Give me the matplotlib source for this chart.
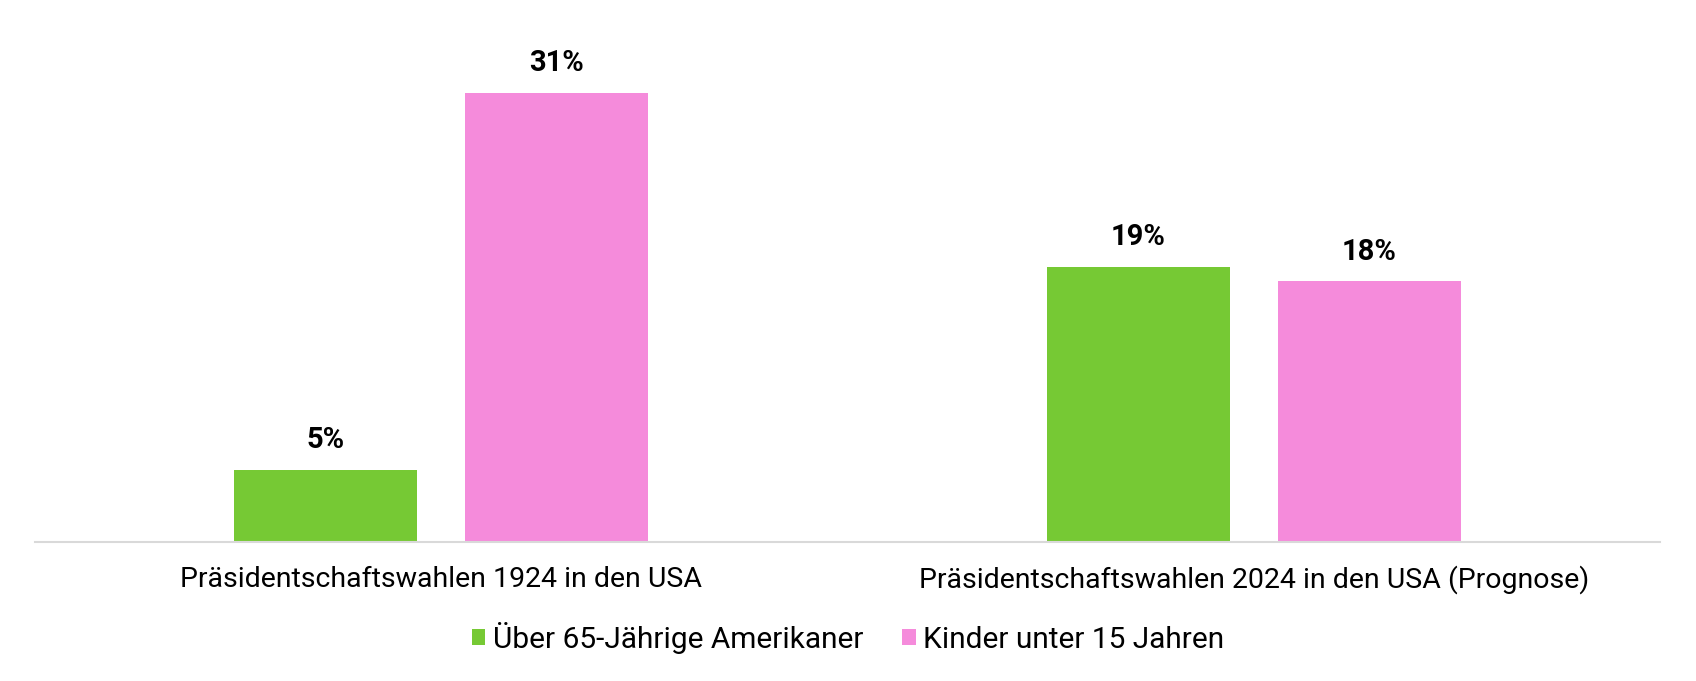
import matplotlib.pyplot as plt
import numpy as np

# Anteil an der US-Bevölkerung
categories = ['Präsidentschaftswahlen 1924 in den USA',
              'Präsidentschaftswahlen 2024 in den USA (Prognose)']
series_names = ['Über 65-Jährige Amerikaner', 'Kinder unter 15 Jahren']
over_65 = [5, 19]
under_15 = [31, 18]

colors = ['#76C934', '#F58BDB']

plt.rcParams['font.family'] = ['Roboto', 'DejaVu Sans']

fig = plt.figure(figsize=(16.96, 6.81), dpi=100)
ax = fig.add_axes([35 / 1696, 1 - 542 / 681, 1625 / 1696, 470 / 681])

x = np.arange(len(categories))
width = 0.225
offset = 0.142

bars1 = ax.bar(x - offset, over_65, width, color=colors[0], label=series_names[0])
bars2 = ax.bar(x + offset, under_15, width, color=colors[1], label=series_names[1])

for bars in (bars1, bars2):
    for b in bars:
        ax.annotate(f'{b.get_height():.0f}%', (b.get_x() + b.get_width() / 2, b.get_height()),
                    xytext=(0, 21), textcoords='offset points', ha='center', va='center',
                    fontsize=21, fontweight='bold')

ax.set_xlim(-0.5, 1.5)
ax.set_ylim(0, 470 / 14.5)
ax.set_xticks(x)
ax.set_xticklabels(categories, fontsize=20.5)
ax.tick_params(axis='x', length=0, pad=17)
ax.set_yticks([])
for s in ['top', 'right', 'left']:
    ax.spines[s].set_visible(False)
ax.spines['bottom'].set_color('#D9D9D9')
ax.spines['bottom'].set_linewidth(1.5)

fig.legend(loc='center', bbox_to_anchor=(0.5, 1 - 638 / 681), ncol=2, frameon=False,
           fontsize=21.5, handlelength=0.45, handleheight=0.45, handletextpad=0.25,
           columnspacing=1.3)

fig.savefig('out.png', dpi=100)
